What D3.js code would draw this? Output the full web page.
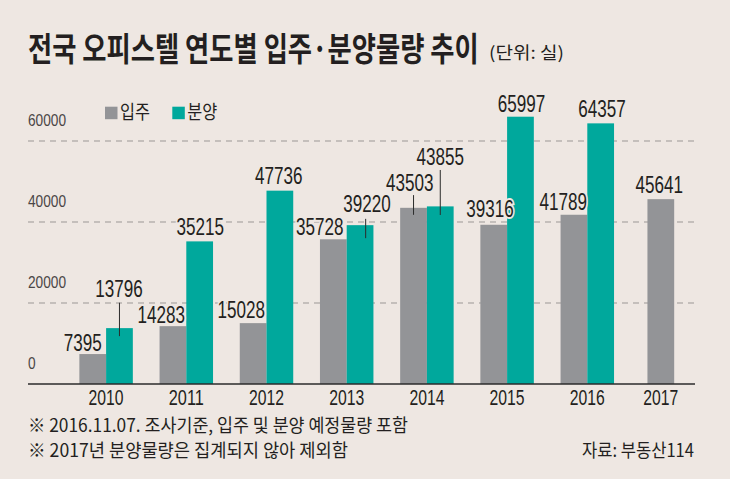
<!DOCTYPE html>
<html>
<head>
<meta charset="utf-8">
<script src="https://cdn.jsdelivr.net/npm/d3@7"></script>
<style>
  html, body { margin: 0; padding: 0; background: #eee7e2; }
  svg { display: block; }
</style>
</head>
<body>
<svg id="chart" width="730" height="479"></svg>
<script>
// ---------- DATA ----------
const years = ['2010', '2011', '2012', '2013', '2014', '2015', '2016', '2017'];
const moveIn = [7395, 14283, 15028, 35728, 43503, 39316, 41789, 45641];     // 입주
const presale = [13796, 35215, 47736, 39220, 43855, 65997, 64357, null];    // 분양
const yTicks = [0, 20000, 40000, 60000];
const seriesNames = ['입주', '분양'];
const titleText = '전국 오피스텔 연도별 입주·분양물량 추이';
const unitText = '(단위: 실)';
const notes = ['※ 2016.11.07. 조사기준, 입주 및 분양 예정물량 포함', '※ 2017년 분양물량은 집계되지 않아 제외함'];
const sourceText = '자료: 부동산114';

// ---------- LAYOUT (label placement relative to bar: dx from bar centre, dy from bar top) ----------
const moveInLabelPos = [[-10, -3.4], [-11.6, -3.5], [-11.8, -4.8], [-13.5, -4.3], [-3.8, -17], [-3.8, -7.5], [-10.7, -4.8], [-1.5, -6.5]];
const presaleLabelPos = [[-0.5, -30.8], [0.5, -6.4], [-1, -6.7], [7, -13], [0, -41.4], [1, -4.4], [1.3, -6]];
// leader lines: [series, index, dx from bar centre, gap below label baseline, extension into bar]
const leaders = [['p', 0, 0, 5.4, 8], ['p', 3, 5.6, 6.7, 13], ['m', 4, 0, 4.3, 7], ['p', 4, 0, 5, 8.6]];

const C = {
  bg: '#eee7e2', gray: '#939497', teal: '#00a89c', text: '#231f20', tick: '#4a4646', grid: '#9b9795'
};
const NUM_FONT = '"Liberation Sans", Arimo, Roboto, sans-serif';
const KR_FONT = '"Noto Sans CJK KR", "Noto Sans", sans-serif';

const svg = d3.select('#chart');
svg.append('rect').attr('width', 730).attr('height', 479).attr('fill', C.bg);

const x = d3.scaleBand().domain(years).range([66, 707.6]).padding(0);
const bw = x.step() / 3;
const y = d3.scaleLinear().domain([0, 60000]).range([384, 141]);
const left = 28, right = 695;

const center = yr => x(yr) + x.bandwidth() / 2;
const grayX = i => presale[i] == null ? center(years[i]) - 0.75 * bw : center(years[i]) - bw;
const tealX = i => center(years[i]);

// fit a text horizontally to a width with a transform (keeps glyph height)
function fitText(sel, tx, ty, width, anchorEnd) {
  const w = sel.node().getComputedTextLength();
  const k = width / w;
  sel.attr('x', 0).attr('y', 0)
    .attr('transform', `translate(${anchorEnd ? tx - width : tx},${ty}) scale(${k},1)`);
}

// ---------- Title ----------
fitText(svg.append('text')
  .attr('font-family', KR_FONT).attr('font-weight', 700).attr('font-size', 33)
  .attr('fill', C.text).text(titleText), 28, 61, 451);
fitText(svg.append('text')
  .attr('font-family', KR_FONT).attr('font-size', 17)
  .attr('fill', C.text).text(unitText), 489, 59, 75);

// ---------- Gridlines and tick labels ----------
svg.append('g').selectAll('line').data(yTicks.filter(d => d > 0)).join('line')
  .attr('x1', left).attr('x2', right)
  .attr('y1', d => y(d)).attr('y2', d => y(d))
  .attr('stroke', C.grid).attr('stroke-width', 1).attr('stroke-dasharray', '6,5');

svg.append('g').selectAll('text').data(yTicks).join('text')
  .attr('x', left).attr('y', d => y(d) - 15)
  .attr('font-family', NUM_FONT).attr('font-size', 17).attr('fill', C.tick)
  .attr('textLength', d => String(d).length * 7.6).attr('lengthAdjust', 'spacingAndGlyphs')
  .text(d => d);

// ---------- Legend ----------
const lg = svg.append('g');
[[105, C.gray], [172.3, C.teal]].forEach((p, k) => {
  lg.append('rect').attr('x', p[0]).attr('y', 106.7).attr('width', 12.5).attr('height', 12.5).attr('fill', p[1]);
  lg.append('text').attr('x', p[0] + 15).attr('y', 119)
    .attr('font-family', KR_FONT).attr('font-size', 19).attr('fill', C.text)
    .attr('textLength', 30).attr('lengthAdjust', 'spacingAndGlyphs')
    .text(seriesNames[k]);
});

// ---------- Bars ----------
svg.append('g').selectAll('rect').data(moveIn).join('rect')
  .attr('x', (d, i) => grayX(i)).attr('width', bw)
  .attr('y', d => y(d)).attr('height', d => y(0) - y(d))
  .attr('fill', C.gray);

svg.append('g').selectAll('rect').data(presale.map((v, i) => ({ v, i })).filter(d => d.v != null)).join('rect')
  .attr('x', d => tealX(d.i)).attr('width', bw)
  .attr('y', d => y(d.v)).attr('height', d => y(0) - y(d.v))
  .attr('fill', C.teal);

// ---------- Axis ----------
svg.append('line').attr('x1', left).attr('x2', right).attr('y1', y(0)).attr('y2', y(0))
  .attr('stroke', '#2b2b2b').attr('stroke-width', 1.5);

svg.append('g').selectAll('text').data(years).join('text')
  .attr('x', (d, i) => presale[i] == null ? grayX(i) + bw / 2 : center(d))
  .attr('y', 405).attr('text-anchor', 'middle')
  .attr('font-family', NUM_FONT).attr('font-size', 22).attr('fill', C.text)
  .attr('textLength', 35).attr('lengthAdjust', 'spacingAndGlyphs')
  .text(d => d);

// ---------- Value labels ----------
function labelSel(g, items) {
  g.selectAll('text').data(items).join('text')
    .attr('x', d => d.cx).attr('y', d => d.by).attr('text-anchor', 'middle')
    .attr('font-family', NUM_FONT).attr('font-size', 23).attr('fill', C.text)
    .attr('stroke', C.bg).attr('stroke-width', 4).attr('paint-order', 'stroke')
    .attr('textLength', d => String(d.v).length * 9.5).attr('lengthAdjust', 'spacingAndGlyphs')
    .text(d => d.v);
}
const mItems = moveIn.map((v, i) => ({ v, cx: grayX(i) + bw / 2 + moveInLabelPos[i][0], by: y(v) + moveInLabelPos[i][1] }));
const pItems = presale.map((v, i) => v == null ? null : ({ v, cx: tealX(i) + bw / 2 + presaleLabelPos[i][0], by: y(v) + presaleLabelPos[i][1] })).filter(d => d);

// leader lines
svg.append('g').selectAll('line').data(leaders).join('line')
  .attr('x1', d => (d[0] === 'p' ? tealX(d[1]) : grayX(d[1])) + bw / 2 + d[2])
  .attr('x2', d => (d[0] === 'p' ? tealX(d[1]) : grayX(d[1])) + bw / 2 + d[2])
  .attr('y1', d => {
    const v = d[0] === 'p' ? presale[d[1]] : moveIn[d[1]];
    const off = d[0] === 'p' ? presaleLabelPos[d[1]][1] : moveInLabelPos[d[1]][1];
    return y(v) + off + d[3];
  })
  .attr('y2', d => y(d[0] === 'p' ? presale[d[1]] : moveIn[d[1]]) + d[4])
  .attr('stroke', '#2b2b2b').attr('stroke-width', 1);

labelSel(svg.append('g'), mItems);
labelSel(svg.append('g'), pItems);

// ---------- Notes ----------
svg.append('text').attr('x', 28).attr('y', 432)
  .attr('font-family', KR_FONT).attr('font-size', 18).attr('fill', C.text)
  .attr('textLength', 380).attr('lengthAdjust', 'spacingAndGlyphs').text(notes[0]);
svg.append('text').attr('x', 28).attr('y', 457)
  .attr('font-family', KR_FONT).attr('font-size', 18).attr('fill', C.text)
  .attr('textLength', 320).attr('lengthAdjust', 'spacingAndGlyphs').text(notes[1]);
svg.append('text').attr('x', 694).attr('y', 457).attr('text-anchor', 'end')
  .attr('font-family', KR_FONT).attr('font-size', 18).attr('fill', C.text)
  .attr('textLength', 112).attr('lengthAdjust', 'spacingAndGlyphs').text(sourceText);
</script>
</body>
</html>
